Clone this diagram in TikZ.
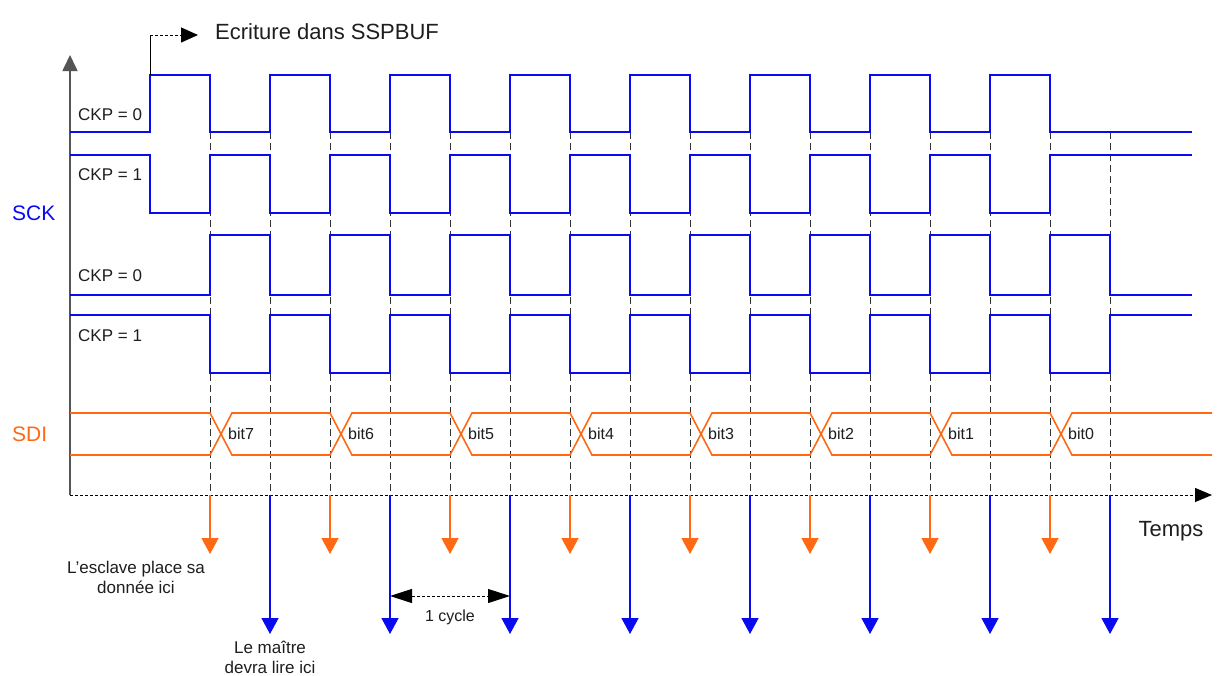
\documentclass[tikz,border=0pt]{standalone}
\usepackage{fontspec}
\setmainfont{Liberation Sans}
\usetikzlibrary{arrows.meta}
\definecolor{sigblue}{RGB}{10,10,240}
\definecolor{sigorange}{RGB}{255,105,20}
\definecolor{guidegray}{RGB}{50,50,50}
\definecolor{axisgray}{RGB}{85,85,85}
\definecolor{txtgray}{RGB}{30,30,30}
\begin{document}
\begin{tikzpicture}[x=1pt,y=-1pt,
  wave/.style={sigblue, line width=1.6pt, line join=miter},
  sdiwave/.style={sigorange, line width=1.6pt, line join=miter},
  guideline/.style={guidegray, dash pattern=on 7pt off 4pt, line width=1pt},
  slavearrow/.style={sigorange, line width=1.3pt, -{Triangle[width=17pt,length=16pt]}},
  masterarrow/.style={sigblue, line width=1.3pt, -{Triangle[width=17pt,length=16pt]}},
  blackhead/.style={-{Triangle[width=15pt,length=17pt]}},
  ckplbl/.style={font=\fontsize{17}{20}\selectfont, text=txtgray, inner sep=0pt, anchor=west},
  bitlbl/.style={font=\fontsize{16}{19}\selectfont, text=txtgray, inner sep=0pt, anchor=west},
  notelbl/.style={font=\fontsize{17}{20}\selectfont, text=txtgray, inner sep=0pt, align=center},
  biglbl/.style={font=\fontsize{21}{25}\selectfont, inner sep=0pt}
]
\useasboundingbox[fill=white] (0,0) rectangle (1220,675);

% dashed guide lines
\foreach \x in {210,270,...,1110} {
  \coordinate (gt\x) at (\x,132);
  \coordinate (gb\x) at (\x,495);
  \draw[guideline] (gt\x) -- (gb\x);
}

% axes
\coordinate (origin) at (70,495);
\coordinate (ytop) at (70,55);
\coordinate (xend) at (1212,495);
\draw[axisgray, line width=1.6pt, -{Triangle[width=15pt,length=16pt]}] (origin) -- (ytop);
\draw[black, line width=1pt, dash pattern=on 3pt off 2pt, -{Triangle[width=14pt,length=17pt]}] (origin) -- (xend);

% SCK waveforms
\draw[wave] (70,132) -- (150,132)
  foreach \x in {150,270,...,990} { -- (\x,132) -- (\x,75) -- (\x+60,75) -- (\x+60,132) }
  -- (1192,132);
\draw[wave] (70,155) -- (150,155) -- (150,213)
  foreach \x in {210,330,...,930} { -- (\x,213) -- (\x,155) -- (\x+60,155) -- (\x+60,213) }
  -- (1050,213) -- (1050,155) -- (1192,155);
\draw[wave] (70,295)
  foreach \x in {210,330,...,1050} { -- (\x,295) -- (\x,235) -- (\x+60,235) -- (\x+60,295) }
  -- (1192,295);
\draw[wave] (70,315)
  foreach \x in {210,330,...,1050} { -- (\x,315) -- (\x,373) -- (\x+60,373) -- (\x+60,315) }
  -- (1192,315);

% SDI
\draw[sdiwave] (70,413) -- (210,413) -- (232,455) -- (330,455) -- (352,413) -- (450,413)
  -- (472,455) -- (570,455) -- (592,413) -- (690,413) -- (712,455) -- (810,455)
  -- (832,413) -- (930,413) -- (952,455) -- (1050,455) -- (1072,413) -- (1212,413);
\draw[sdiwave] (70,455) -- (210,455) -- (232,413) -- (330,413) -- (352,455) -- (450,455)
  -- (472,413) -- (570,413) -- (592,455) -- (690,455) -- (712,413) -- (810,413)
  -- (832,455) -- (930,455) -- (952,413) -- (1050,413) -- (1072,455) -- (1212,455);

\foreach \s/\b in {210/7,330/6,450/5,570/4,690/3,810/2,930/1,1050/0} {
  \node[bitlbl] (bit\b) at (\s+18,434) {bit\b};
}

% write arrow
\coordinate (wstart) at (150,75);
\coordinate (wcorner) at (150,35);
\coordinate (wend) at (198,35);
\draw[black, line width=1pt] (wstart) -- (wcorner);
\draw[black, line width=1pt, dash pattern=on 3pt off 2pt, blackhead] (wcorner) -- (wend);
\node[font=\fontsize{22}{26}\selectfont, text=txtgray, inner sep=0pt, anchor=west] (ecr) at (215,32) {Ecriture dans SSPBUF};

% labels
\node[ckplbl] (ckp1) at (78,115) {CKP = 0};
\node[ckplbl] (ckp2) at (78,175) {CKP = 1};
\node[ckplbl] (ckp3) at (78,276) {CKP = 0};
\node[ckplbl] (ckp4) at (78,336) {CKP = 1};
\node[biglbl, text=sigblue, anchor=west] (sck) at (12,213) {SCK};
\node[biglbl, text=sigorange, anchor=west] (sdi) at (12,434) {SDI};
\node[font=\fontsize{22}{26}\selectfont, inner sep=0pt, text=txtgray] (temps) at (1171,531) {Temps};

% sampling arrows
\foreach \x in {210,330,...,1050} {
  \coordinate (ss\x) at (\x,495);
  \coordinate (se\x) at (\x,554);
  \draw[slavearrow] (ss\x) -- (se\x);
}
\foreach \x in {270,390,...,1110} {
  \coordinate (ms\x) at (\x,495);
  \coordinate (me\x) at (\x,634);
  \draw[masterarrow] (ms\x) -- (me\x);
}

% one cycle
\coordinate (cyA) at (390,596);
\coordinate (cyB) at (510,596);
\draw[black, line width=1pt, dash pattern=on 3pt off 2pt, {Triangle[width=14pt,length=22pt]}-{Triangle[width=14pt,length=22pt]}] (cyA) -- (cyB);
\node[notelbl, font=\fontsize{16}{20}\selectfont] (cycle) at (450,617) {1 cycle};

\node[notelbl] (slave) at (136,577) {L'esclave place sa\\donnée ici};
\node[notelbl] (master) at (270,657) {Le maître\\devra lire ici};
\end{tikzpicture}
\end{document}
